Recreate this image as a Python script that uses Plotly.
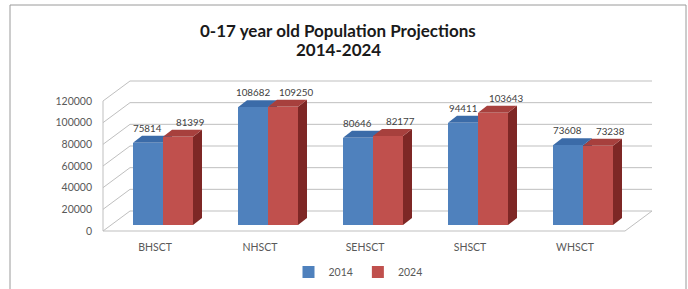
import plotly.graph_objects as go

# ---------------- data ----------------
categories = ["BHSCT", "NHSCT", "SEHSCT", "SHSCT", "WHSCT"]
series_names = ["2014", "2024"]
values_2014 = [75814, 108682, 80646, 94411, 73608]
values_2024 = [81399, 109250, 82177, 103643, 73238]
y_ticks = [0, 20000, 40000, 60000, 80000, 100000, 120000]
title_lines = ["0-17 year old Population Projections", "2014-2024"]

# ---------------- geometry (pixels -> data units) ----------------
W, H = 688, 289
PX_L, PX_R, PX_T, PX_B = 100, 664, 70, 235
X_UNIT_PX = 105.0                      # pixels per category step
Y_PER_PX = 120000 / 130.0              # data units per pixel
CAT0_PX = 155                          # front-plane pixel of first category
Y0_PX = 231                            # front-plane pixel of value 0

def xd(px):  # pixel delta -> x data delta
    return px / X_UNIT_PX

def yd(px):  # pixel delta (upwards positive) -> y data delta
    return px * Y_PER_PX

x_range = [(PX_L - CAT0_PX) / X_UNIT_PX, (PX_R - CAT0_PX) / X_UNIT_PX]
y_range = [-(PX_B - Y0_PX) * Y_PER_PX, (Y0_PX - PX_T) * Y_PER_PX]

def paper_x(px):
    return (px - PX_L) / (PX_R - PX_L)

def paper_y(py):
    return (PX_B - py) / (PX_B - PX_T)

# 3D offsets
BAR_DX, BAR_DY = xd(8), yd(6)          # bar plane relative to front plane
BACK_DX, BACK_DY = xd(27), yd(20)      # back wall relative to front plane
DEP_DX, DEP_DY = xd(9), yd(7)          # bar depth
BAR_W = xd(30)
WALL_L = (103 - CAT0_PX) / X_UNIT_PX
FLOOR_R = (625 - CAT0_PX) / X_UNIT_PX

BLUE, BLUE_TOP, BLUE_SIDE = "#4F81BD", "#3B6BA8", "#2E5486"
RED, RED_TOP, RED_SIDE = "#C0504D", "#A7403D", "#7E2725"
GRID = "#BFBFBF"
FONT = "Lato"

fig = go.Figure()

shapes = []
# walls / gridlines
for v in y_ticks:
    shapes.append(dict(type="line", xref="x", yref="y", layer="below",
                       x0=WALL_L + BACK_DX, x1=FLOOR_R + BACK_DX,
                       y0=v + BACK_DY, y1=v + BACK_DY,
                       line=dict(color=GRID, width=1)))
    shapes.append(dict(type="line", xref="x", yref="y", layer="below",
                       x0=WALL_L, x1=WALL_L + BACK_DX,
                       y0=v, y1=v + BACK_DY,
                       line=dict(color=GRID, width=1)))
# left wall front edge, floor front edge, floor right edge
shapes.append(dict(type="line", xref="x", yref="y", layer="below",
                   x0=WALL_L, x1=WALL_L, y0=0, y1=y_ticks[-1],
                   line=dict(color=GRID, width=1)))
shapes.append(dict(type="line", xref="x", yref="y", layer="below",
                   x0=WALL_L, x1=FLOOR_R, y0=0, y1=0,
                   line=dict(color=GRID, width=1)))
shapes.append(dict(type="line", xref="x", yref="y", layer="below",
                   x0=FLOOR_R, x1=FLOOR_R + BACK_DX, y0=0, y1=BACK_DY,
                   line=dict(color=GRID, width=1)))

annotations = []
series = [(values_2014, -0.5, BLUE, BLUE_TOP, BLUE_SIDE, series_names[0], -5),
          (values_2024, 0.5, RED, RED_TOP, RED_SIDE, series_names[1], 8)]

for vals, off, col, col_top, col_side, name, lbl_shift in series:
    xs = [i + BAR_DX + off * BAR_W for i in range(len(categories))]
    fig.add_trace(go.Bar(
        x=xs, y=vals, base=BAR_DY, width=BAR_W, name=name,
        marker=dict(color=col, line=dict(width=0)),
        hoverinfo="skip", showlegend=True,
    ))
    for xc, v in zip(xs, vals):
        x0, x1 = xc - BAR_W / 2, xc + BAR_W / 2
        top = BAR_DY + v
        bot = BAR_DY
        # side face
        shapes.append(dict(
            type="path", xref="x", yref="y", layer="below",
            path=f"M {x1},{bot} L {x1 + DEP_DX},{bot + DEP_DY} L {x1 + DEP_DX},{top + DEP_DY} L {x1},{top} Z",
            fillcolor=col_side, line=dict(width=0)))
        # top face
        shapes.append(dict(
            type="path", xref="x", yref="y", layer="below",
            path=f"M {x0},{top} L {x1},{top} L {x1 + DEP_DX},{top + DEP_DY} L {x0 + DEP_DX},{top + DEP_DY} Z",
            fillcolor=col_top, line=dict(width=0)))
        annotations.append(dict(
            x=xc + DEP_DX / 2, y=top + DEP_DY, xref="x", yref="y",
            text=str(v), showarrow=False, yanchor="bottom", yshift=0,
            xshift=lbl_shift,
            font=dict(family=FONT, size=9.8, color="#404040")))

# title
annotations.append(dict(x=paper_x(338), y=paper_y(30), xref="paper", yref="paper",
                        text=f"<b>{title_lines[0]}</b>", showarrow=False,
                        xanchor="center", yanchor="middle",
                        font=dict(family=FONT, size=17, color="#1a1a1a")))
annotations.append(dict(x=paper_x(338), y=paper_y(49), xref="paper", yref="paper",
                        text=f"<b>{title_lines[1]}</b>", showarrow=False,
                        xanchor="center", yanchor="middle",
                        font=dict(family=FONT, size=17, color="#1a1a1a")))

# outer chart frame
shapes.append(dict(type="rect", xref="paper", yref="paper", layer="below",
                   x0=paper_x(10), x1=paper_x(686), y0=paper_y(300), y1=paper_y(5),
                   line=dict(color="#9a9a9a", width=1), fillcolor="rgba(0,0,0,0)"))

fig.update_layout(
    width=W, height=H,
    margin=dict(l=PX_L, r=W - PX_R, t=PX_T, b=H - PX_B, pad=0, autoexpand=False),
    paper_bgcolor="white", plot_bgcolor="white",
    barmode="overlay", bargap=0,
    shapes=shapes, annotations=annotations,
    showlegend=True,
    legend=dict(orientation="h", xref="container", yref="container",
                x=358 / W, y=1 - 272 / H,
                xanchor="center", yanchor="middle",
                font=dict(family=FONT, size=10.5, color="#595959"),
                itemwidth=30, tracegroupgap=0, bgcolor="rgba(0,0,0,0)"),
    font=dict(family=FONT),
)
fig.update_xaxes(range=x_range, tickmode="array", automargin=False,
                 tickvals=list(range(len(categories))), ticktext=categories,
                 showgrid=False, zeroline=False, showline=False, ticks="",
                 tickfont=dict(family=FONT, size=10.5, color="#595959"),
                 ticklabelstandoff=4, fixedrange=True)
fig.update_yaxes(range=y_range, tickmode="array", tickvals=y_ticks, automargin=False,
                 ticktext=[str(t) for t in y_ticks],
                 showgrid=False, zeroline=False, showline=False, ticks="",
                 tickfont=dict(family=FONT, size=10.5, color="#595959"),
                 ticklabelstandoff=7, fixedrange=True)

fig.write_html("out.html", config={"displayModeBar": False},
               post_script="document.body.style.margin='0';document.body.style.overflow='hidden';")
